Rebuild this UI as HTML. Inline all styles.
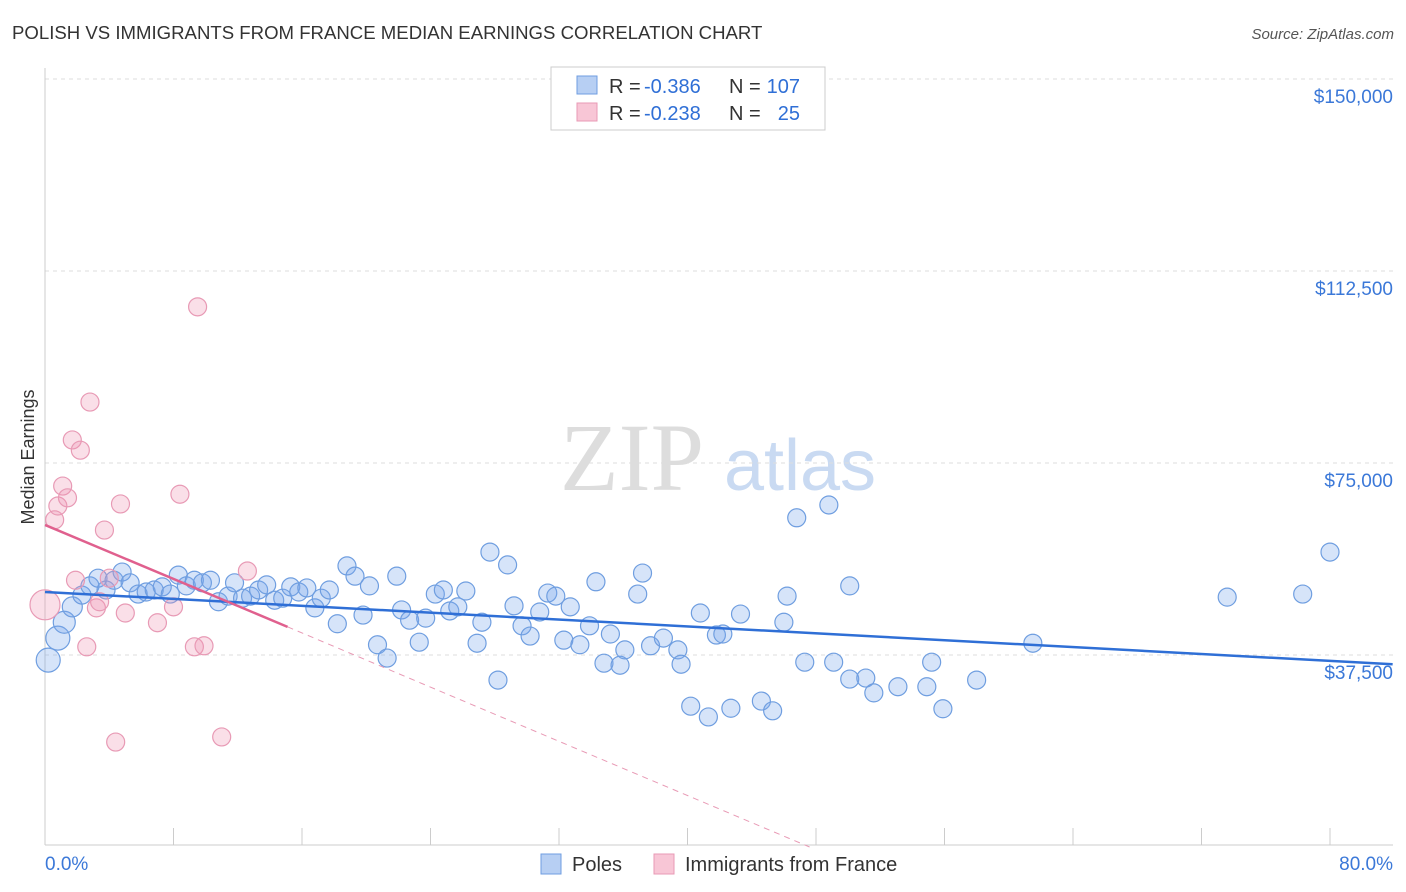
<!DOCTYPE html>
<html><head><meta charset="utf-8"><style>
body{margin:0;background:#fff;font-family:"Liberation Sans",sans-serif;}
svg{display:block}
</style></head><body>
<svg id="chart" width="1406" height="892" xmlns="http://www.w3.org/2000/svg">
<text x="12" y="39" font-size="18.6" fill="#333">POLISH VS IMMIGRANTS FROM FRANCE MEDIAN EARNINGS CORRELATION CHART</text>
<text x="1394" y="39" font-size="15" fill="#555" text-anchor="end" font-style="italic">Source: ZipAtlas.com</text>
<g>
<text x="632" y="490" font-size="96" fill="#ddd" font-family="Liberation Serif" text-anchor="middle">ZIP</text>
<text x="800" y="490" font-size="72" fill="#c9daf2" text-anchor="middle">atlas</text>
</g>
<g id="grid"></g>
<g id="marks"></g>
<text transform="translate(34,457) rotate(-90)" font-size="18" fill="#333" text-anchor="middle">Median Earnings</text>
<g font-size="20">
<rect x="551" y="67" width="274" height="63" fill="#fff" stroke="#ccc"/>
<rect x="577" y="76" width="20" height="18" fill="#b7cff3" stroke="#6f9ee0"/>
<text x="609" y="93" fill="#333">R =</text>
<text x="644" y="93" fill="#2f6fd6">-0.386</text>
<text x="729" y="93" fill="#333">N =</text>
<text x="800" y="93" fill="#2f6fd6" text-anchor="end">107</text>
<rect x="577" y="103" width="20" height="18" fill="#f8c6d6" stroke="#e89ab5"/>
<text x="609" y="120" fill="#333">R =</text>
<text x="644" y="120" fill="#2f6fd6">-0.238</text>
<text x="729" y="120" fill="#333">N =</text>
<text x="800" y="120" fill="#2f6fd6" text-anchor="end">25</text>
</g>
<g>
<rect x="541" y="854" width="20" height="20" fill="#b7cff3" stroke="#6f9ee0"/>
<text x="572" y="871" font-size="20" fill="#333">Poles</text>
<rect x="654" y="854" width="20" height="20" fill="#f8c6d6" stroke="#e89ab5"/>
<text x="685" y="871" font-size="20" fill="#333">Immigrants from France</text>
</g>
<text x="45" y="870" font-size="19" fill="#3b78d8">0.0%</text>
<text x="1393" y="870" font-size="19" fill="#3b78d8" text-anchor="end">80.0%</text>
</svg>
<script>
const yTicks=[150000,112500,75000,37500];
const yTickLabels=["$150,000","$112,500","$75,000","$37,500"];
const xTicks=[0,8,16,24,32,40,48,56,64,72,80];
const polesX=[0.2,0.8,1.2,1.7,2.3,2.8,3.3,3.8,4.3,4.8,5.3,5.8,6.3,6.8,7.3,7.8,8.3,8.8,9.3,9.8,10.3,10.8,11.4,11.8,12.3,12.8,13.3,13.8,14.3,14.8,15.3,15.8,16.3,16.8,17.2,17.7,18.2,18.8,19.3,19.8,20.2,20.7,21.3,21.9,22.2,22.7,23.3,23.7,24.3,24.8,25.2,25.7,26.2,26.9,27.2,27.7,28.2,28.8,29.2,29.7,30.2,30.8,31.3,31.8,32.3,32.7,33.3,33.9,34.3,34.8,35.2,35.8,36.1,36.9,37.2,37.7,38.5,39.4,39.6,40.2,40.8,41.3,41.8,42.2,42.7,43.3,44.6,45.3,46.0,46.2,46.8,47.3,48.8,49.1,50.1,50.1,51.1,51.6,53.1,54.9,55.2,55.9,58.0,61.5,73.6,78.3,80.0];
const polesY=[36.5,40.8,43.9,46.9,49.2,51.0,52.5,50.2,52.1,53.7,51.6,49.4,49.8,50.2,50.8,49.4,53.1,51.0,52.1,51.6,52.1,47.9,49.0,51.6,48.6,49.0,50.2,51.2,48.2,48.6,50.8,49.8,50.6,46.7,48.6,50.2,43.6,54.9,52.9,45.3,51.0,39.5,36.9,52.9,46.3,44.3,40.0,44.7,49.4,50.2,46.1,46.9,50.0,39.8,43.9,57.6,32.6,55.1,47.1,43.2,41.2,45.9,49.6,49.0,40.4,46.9,39.5,43.2,51.8,35.9,41.6,35.5,38.5,49.4,53.5,39.3,40.8,38.5,35.7,27.5,45.7,25.4,41.4,41.6,27.1,45.5,28.5,26.6,43.9,49.0,64.3,36.1,66.8,36.1,51.0,32.8,33.0,30.1,31.3,31.3,36.1,27.0,32.6,39.8,48.8,49.4,57.6];
const franceX=[0.0,0.6,0.8,1.1,1.4,1.7,1.9,2.2,2.6,2.8,3.2,3.4,3.7,4.0,4.4,4.7,5.0,7.0,8.0,8.4,9.3,9.5,9.9,11.0,12.6];
const franceY=[47.3,63.9,66.6,70.5,68.2,79.5,52.1,77.5,39.1,86.9,46.7,47.9,61.9,52.5,20.5,67.0,45.7,43.8,46.9,68.9,39.1,105.5,39.3,21.5,53.9];
const polesTrend=[[0,49.8],[83.9,35.7]];
const franceTrend=[[0,62.9],[15.1,43.0]];
const franceDash=[[15.1,43.0],[47.6,0]];
const NS="http://www.w3.org/2000/svg";
const X=v=>45+v*1285/80;
const Y=k=>79+(150-k)*5.12;
const grid=document.getElementById('grid'),marks=document.getElementById('marks');
function mk(tag,attrs,parent){const e=document.createElementNS(NS,tag);for(const a in attrs)e.setAttribute(a,attrs[a]);parent.appendChild(e);return e;}
yTicks.forEach((t,i)=>{
 const l=mk('line',{x1:45,x2:1393,y1:Y(t/1000),y2:Y(t/1000),stroke:'#ddd','stroke-dasharray':'4,4'},grid);
 
 
 const tx=mk('text',{x:1393,y:Y(t/1000)+24,'font-size':19,fill:'#3b78d8','text-anchor':'end'},grid);
 tx.textContent=yTickLabels[i];
 
 
});
const ax=mk('line',{x1:45,x2:45,y1:68,y2:845,stroke:'#ccc'},grid);


const bx=mk('line',{x1:45,x2:1393,y1:845,y2:845,stroke:'#ccc'},grid);


xTicks.forEach(t=>{
 const l=mk('line',{x1:X(t),x2:X(t),y1:828,y2:845,stroke:'#ccc'},grid);
 
 
});
function dots(xs,ys,fill,stroke,name,big){
 xs.forEach((x,i)=>{
  let r=9; if(big&&i<big.length)r=big[i];
  const c=mk('circle',{cx:X(x),cy:Y(ys[i]),r:r,fill:fill,stroke:stroke,'stroke-width':1.2},marks);
  
  
 });
}
dots(polesX,polesY,'rgba(120,165,235,0.3)','#6f9ee0','poles-point',[12,12,11,10]);
dots(franceX,franceY,'rgba(240,150,180,0.3)','#e89ab5','france-point',[15]);
function line(p,stroke,name,w,dash){
 const l=mk('line',{x1:X(p[0][0]),y1:Y(p[0][1]),x2:X(p[1][0]),y2:Y(p[1][1]),stroke:stroke,'stroke-width':w},marks);
 if(dash)l.setAttribute('stroke-dasharray',dash);
 
 
}
line(polesTrend,'#2f6fd6','poles-trendline',2.5);
line(franceTrend,'#e0608e','france-trendline',2.5);
line(franceDash,'#e89ab5','france-trendline-extension',1,'6,5');
</script>
</body></html>
